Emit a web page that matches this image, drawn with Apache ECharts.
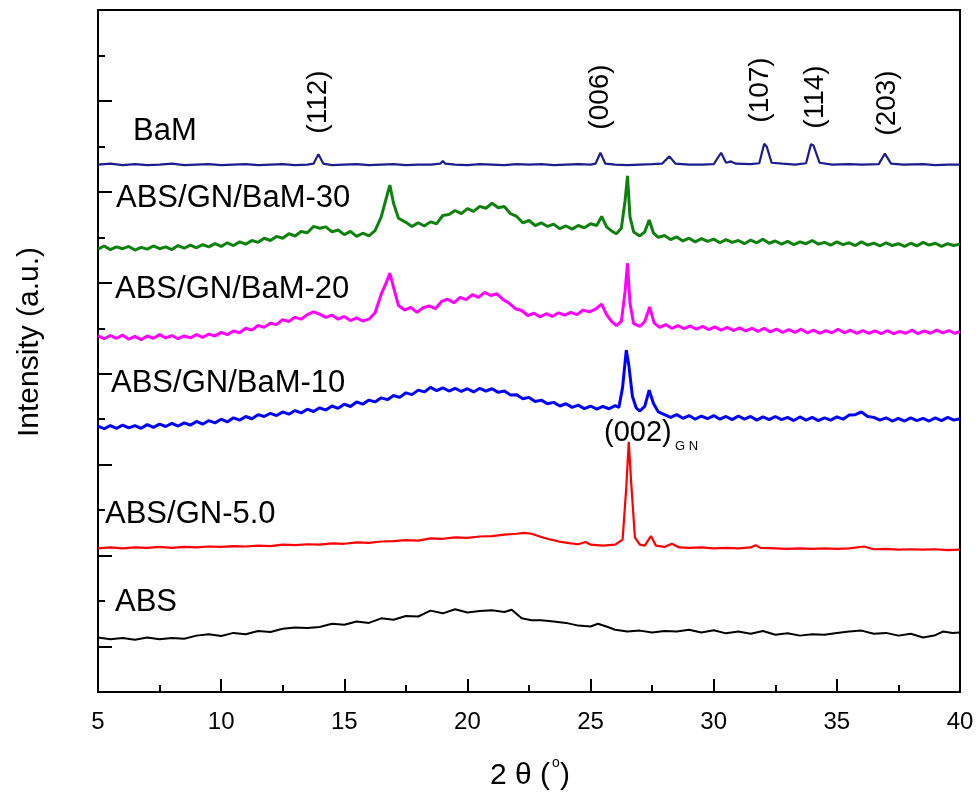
<!DOCTYPE html>
<html>
<head>
<meta charset="utf-8">
<title>XRD</title>
<script src="https://cdn.jsdelivr.net/npm/echarts@6/dist/echarts.min.js"></script>
<style>
html, body { margin: 0; padding: 0; background: #fff; }
#main { width: 978px; height: 797px; }
</style>
</head>
<body>
<div id="main"></div>
<script>
// 2θ (deg), intensity (a.u., stacked offsets)
var bam = [[5,116.0],[5.5,116.2],[6,115.9],[6.5,116.1],[7,115.9],[7.5,116.0],[8,116.2],[8.5,115.9],[9,116.0],[9.5,116.1],
  [10,115.9],[10.5,116.0],[11,116.1],[11.5,115.9],[12,116.0],[12.5,116.1],[13,115.9],[13.5,116.0],[13.75,116.2],[13.95,118.3],
  [14.15,116.2],[14.5,115.9],[15,116.0],[15.5,116.1],[16,115.9],[16.5,116.0],[17,116.1],[17.5,115.9],[18,116.0],[18.5,116.0],
  [18.9,116.2],[19,116.8],[19.1,116.2],[19.5,116.0],[20,115.9],[20.5,116.1],[21,116.0],[21.5,115.9],[22,116.1],[22.5,116.0],
  [23,116.1],[23.5,115.9],[24,116.0],[24.5,116.1],[25,116.0],[25.2,116.2],[25.4,118.6],[25.6,116.2],[26,116.0],[26.5,115.9],
  [27,116.0],[27.5,116.1],[27.9,116.2],[28.2,117.8],[28.45,116.2],[29,116.0],[29.5,116.0],[30,116.1],[30.3,118.6],[30.5,116.4],
  [30.7,116.7],[30.9,116.2],[31.5,116.1],[31.85,116.3],[32.05,120.6],[32.15,120.0],[32.35,116.4],[32.8,116.2],[33.3,116.0],
  [33.75,116.3],[33.95,120.5],[34.05,120.2],[34.3,116.4],[34.8,116.0],[35.5,116.1],[36,116.0],[36.7,116.1],[36.95,118.4],
  [37.2,116.2],[37.7,116.0],[38.5,116.1],[39,115.9],[39.5,116.0],[40,116.0]];

var gnBam30 = [[5,97.4],[5.25,98.1],[5.5,97.3],[5.75,97.9],[6,97.5],[6.25,98.0],[6.5,97.2],[6.75,97.8],[7,97.4],[7.25,98.1],
  [7.5,97.5],[7.75,97.9],[8,97.3],[8.25,98.2],[8.5,97.6],[8.75,98.3],[9,97.7],[9.25,98.4],[9.5,97.9],[9.75,98.6],[10,98.0],
  [10.25,98.8],[10.5,98.2],[10.75,99.0],[11,98.5],[11.25,99.3],[11.5,98.9],[11.75,99.8],[12,99.3],[12.25,100.2],[12.5,99.8],
  [12.75,100.8],[13,100.3],[13.25,101.3],[13.5,101.0],[13.75,102.4],[14,102.0],[14.25,102.3],[14.5,101.2],[14.75,101.6],
  [15,100.6],[15.25,101.3],[15.5,100.2],[15.75,100.9],[16,100.3],[16.25,101.5],[16.5,104.5],[16.7,108.5],[16.85,111.5],
  [17,107.5],[17.2,104.2],[17.5,103.3],[17.75,102.4],[18,103.2],[18.25,102.5],[18.5,103.4],[18.75,103.0],[19,104.8],
  [19.25,105.0],[19.5,105.9],[19.75,105.2],[20,106.3],[20.25,105.7],[20.5,106.8],[20.75,106.4],[21,107.5],[21.25,106.5],
  [21.5,106.8],[21.75,105.2],[22,104.6],[22.25,103.2],[22.5,103.7],[22.75,102.6],[23,103.2],[23.25,102.4],[23.5,102.9],
  [23.75,101.9],[24,102.5],[24.25,101.8],[24.5,102.6],[24.75,102.1],[25,103.0],[25.25,102.6],[25.45,104.6],[25.65,102.3],
  [25.85,101.4],[26.05,100.8],[26.25,102.0],[26.4,108.0],[26.5,113.5],[26.6,104.5],[26.75,101.2],[27,100.3],[27.2,101.2],
  [27.38,103.8],[27.55,101.0],[27.75,100.0],[28,100.4],[28.25,99.5],[28.5,100.1],[28.75,99.2],[29,99.8],[29.25,99.0],
  [29.5,99.7],[29.75,99.1],[30,99.6],[30.25,98.8],[30.5,99.5],[30.75,98.9],[31,99.3],[31.25,98.6],[31.5,99.4],[31.75,98.8],
  [32,99.6],[32.25,98.7],[32.5,99.2],[32.75,98.5],[33,99.1],[33.25,98.4],[33.5,99.0],[33.75,98.6],[34,99.3],[34.25,98.5],
  [34.5,98.9],[34.75,98.3],[35,99.0],[35.25,98.4],[35.5,98.8],[35.75,98.2],[36,99.0],[36.25,98.3],[36.5,98.7],[36.75,98.1],
  [37,98.8],[37.25,98.2],[37.5,98.6],[37.75,98.0],[38,98.7],[38.25,98.1],[38.5,98.9],[38.75,98.3],[39,98.7],[39.25,98.0],
  [39.5,98.6],[39.75,98.2],[40,98.5]];

var gnBam20 = [[5,78.3],[5.25,77.7],[5.5,78.4],[5.75,77.8],[6,78.5],[6.25,77.6],[6.5,78.2],[6.75,77.5],[7,78.3],[7.25,77.8],
  [7.5,78.6],[7.75,77.9],[8,78.4],[8.25,77.7],[8.5,78.3],[8.75,77.9],[9,78.6],[9.25,78.0],[9.5,78.7],[9.75,78.3],[10,79.1],
  [10.25,78.6],[10.5,79.4],[10.75,79.0],[11,80.0],[11.25,79.6],[11.5,80.6],[11.75,80.2],[12,81.1],[12.25,80.8],[12.5,81.9],
  [12.75,81.5],[13,82.4],[13.25,82.0],[13.5,83.0],[13.75,83.6],[14,83.1],[14.25,82.4],[14.5,82.9],[14.75,82.0],[15,82.6],
  [15.25,81.7],[15.5,82.3],[15.75,81.6],[16,82.0],[16.25,83.4],[16.5,87.5],[16.7,90.0],[16.85,92.1],[17,89.0],[17.2,85.0],
  [17.45,84.0],[17.7,84.6],[17.95,83.5],[18.2,84.5],[18.45,84.9],[18.7,84.3],[18.95,85.9],[19.2,86.4],[19.45,85.6],
  [19.7,86.8],[19.95,86.3],[20.2,87.4],[20.45,86.8],[20.7,87.9],[20.95,87.2],[21.2,87.6],[21.45,86.3],[21.7,85.5],
  [21.95,84.3],[22.2,83.9],[22.45,82.8],[22.7,83.3],[22.95,82.5],[23.2,83.2],[23.45,82.6],[23.7,83.4],[23.95,82.9],
  [24.2,83.5],[24.45,83.0],[24.7,84.0],[24.95,83.6],[25.2,84.2],[25.45,85.3],[25.65,83.0],[25.85,81.5],[26.05,80.6],
  [26.25,81.5],[26.4,88.0],[26.5,94.3],[26.6,85.5],[26.75,81.0],[27,80.4],[27.2,81.5],[27.4,84.7],[27.58,81.2],[27.8,80.2],
  [28.05,80.8],[28.3,80.0],[28.55,80.6],[28.8,79.9],[29.05,80.5],[29.3,79.8],[29.55,80.4],[29.8,79.7],[30.05,80.3],
  [30.3,79.6],[30.55,80.2],[30.8,79.5],[31.05,80.1],[31.3,79.4],[31.55,80.0],[31.8,79.3],[32.05,80.0],[32.3,79.2],
  [32.55,79.8],[32.8,79.1],[33.05,79.7],[33.3,79.1],[33.55,79.8],[33.8,79.0],[34.05,79.6],[34.3,78.9],[34.55,79.5],
  [34.8,79.0],[35.05,79.8],[35.3,79.0],[35.55,79.6],[35.8,78.9],[36.05,79.5],[36.3,78.9],[36.55,79.4],[36.8,78.8],
  [37.05,79.5],[37.3,78.8],[37.55,79.3],[37.8,78.9],[38.05,79.6],[38.3,78.8],[38.55,79.4],[38.8,78.9],[39.05,79.6],
  [39.3,79.0],[39.55,79.5],[39.8,78.9],[40,79.3]];

var gnBam10 = [[5,58.5],[5.25,57.9],[5.5,58.6],[5.75,58.0],[6,58.7],[6.25,58.1],[6.5,58.6],[6.75,58.0],[7,58.8],[7.25,58.2],
  [7.5,58.9],[7.75,58.4],[8,59.1],[8.25,58.5],[8.5,59.2],[8.75,58.7],[9,59.5],[9.25,58.9],[9.5,59.7],[9.75,59.2],[10,60.0],
  [10.25,59.4],[10.5,60.3],[10.75,59.8],[11,60.6],[11.25,60.1],[11.5,61.0],[11.75,60.6],[12,61.3],[12.25,60.8],[12.5,61.6],
  [12.75,61.1],[13,61.9],[13.25,61.4],[13.5,62.2],[13.75,61.7],[14,62.5],[14.25,62.0],[14.5,62.9],[14.75,62.4],[15,63.3],
  [15.25,62.8],[15.5,63.8],[15.75,63.3],[16,64.2],[16.25,63.8],[16.5,64.7],[16.75,64.3],[17,65.2],[17.25,64.8],[17.5,65.8],
  [17.75,65.4],[18,66.4],[18.25,66.0],[18.5,67.0],[18.75,66.3],[19,66.9],[19.25,66.2],[19.5,66.8],[19.75,66.1],[20,66.7],
  [20.25,66.0],[20.5,66.8],[20.75,66.2],[21,66.7],[21.25,65.9],[21.5,66.2],[21.75,65.3],[22,65.4],[22.25,64.5],[22.5,64.8],
  [22.75,63.9],[23,64.2],[23.25,63.4],[23.5,63.7],[23.75,62.9],[24,63.4],[24.25,62.6],[24.5,63.1],[24.75,62.3],[25,62.9],
  [25.25,62.2],[25.5,62.8],[25.75,62.3],[26,63.0],[26.15,62.6],[26.3,67.0],[26.45,75.2],[26.55,72.0],[26.7,65.0],
  [26.85,62.5],[27,61.8],[27.2,62.8],[27.38,66.4],[27.55,63.5],[27.75,61.6],[28,61.0],[28.25,60.4],[28.5,61.0],[28.75,60.2],
  [29,60.8],[29.25,60.0],[29.5,60.7],[29.75,60.1],[30,60.8],[30.25,60.0],[30.5,60.6],[30.75,59.9],[31,60.7],[31.25,60.0],
  [31.5,60.6],[31.75,59.8],[32,60.5],[32.25,59.9],[32.5,60.6],[32.75,59.9],[33,60.4],[33.25,59.7],[33.5,60.5],[33.75,59.8],
  [34,60.4],[34.25,59.7],[34.5,60.3],[34.75,59.8],[35,60.5],[35.25,60.0],[35.5,60.9],[35.75,61.0],[36,61.6],[36.25,60.6],
  [36.5,60.4],[36.75,59.8],[37,60.3],[37.25,59.6],[37.5,60.2],[37.75,59.6],[38,60.3],[38.25,59.7],[38.5,60.2],[38.75,59.6],
  [39,60.3],[39.25,59.7],[39.5,60.4],[39.75,59.8],[40,60.1]];

var gn50 = [[5,31.6],[5.5,31.8],[6,31.6],[6.5,31.8],[7,31.7],[7.5,31.9],[8,31.7],[8.5,31.9],[9,31.8],[9.5,32.0],[10,31.9],
  [10.5,32.1],[11,32.0],[11.5,32.2],[12,32.1],[12.5,32.4],[13,32.3],[13.5,32.5],[14,32.4],[14.5,32.7],[15,32.6],[15.5,32.9],
  [16,32.8],[16.5,33.1],[17,33.2],[17.5,33.4],[18,33.3],[18.5,33.8],[19,33.7],[19.5,34.0],[20,33.9],[20.5,34.2],[21,34.3],
  [21.5,34.6],[22,34.8],[22.3,35.0],[22.6,34.8],[23,34.1],[23.4,33.5],[23.8,33.0],[24.2,32.7],[24.5,32.5],[24.8,33.0],
  [25,32.4],[25.5,32.2],[26,32.4],[26.3,33.5],[26.45,45.0],[26.55,55.0],[26.65,46.0],[26.8,34.0],[27,32.4],[27.2,32.2],
  [27.45,34.3],[27.65,32.2],[28,31.9],[28.3,32.6],[28.6,31.8],[29,31.7],[29.5,31.8],[30,31.6],[30.5,31.7],[31,31.6],
  [31.5,31.8],[31.7,32.3],[31.9,31.7],[32.5,31.6],[33,31.5],[33.5,31.6],[34,31.5],[34.5,31.6],[35,31.5],[35.5,31.6],
  [36.1,32.0],[36.5,31.4],[37,31.5],[37.5,31.3],[38,31.4],[38.5,31.3],[39,31.4],[39.5,31.2],[40,31.3]];

var abs = [[5,12.0],[5.5,11.6],[6,11.9],[6.5,11.5],[7,12.0],[7.5,11.6],[8,11.9],[8.5,11.7],[9,12.4],[9.5,12.7],[10,12.3],
  [10.5,13.0],[11,12.7],[11.5,13.4],[12,13.2],[12.5,13.9],[13,14.2],[13.5,14.1],[14,14.3],[14.5,15.0],[15,14.8],[15.5,15.5],
  [16,15.2],[16.5,16.2],[17,15.9],[17.5,16.7],[18,16.6],[18.5,17.9],[19,17.3],[19.5,18.2],[20,17.5],[20.5,17.8],[21,18.0],
  [21.5,17.6],[21.8,18.1],[22.2,16.2],[22.6,15.8],[23,15.8],[23.5,15.5],[24,15.2],[24.5,14.6],[25,14.4],[25.3,15.0],
  [25.7,14.3],[26,13.7],[26.5,13.3],[27,13.5],[27.5,13.1],[28,13.4],[28.5,13.3],[29,13.7],[29.5,13.1],[30,13.6],[30.5,12.9],
  [31,13.3],[31.5,12.8],[32,13.4],[32.5,12.6],[33,12.9],[33.5,12.4],[34,12.7],[34.5,12.6],[35,13.0],[35.5,13.3],[36,13.5],
  [36.5,12.8],[37,13.0],[37.5,12.4],[38,12.8],[38.5,12.0],[39,12.5],[39.3,13.3],[39.7,13.0],[40,13.1]];

var xTicks = [5, 10, 15, 20, 25, 30, 35, 40];
var majorY = [10, 30, 50, 70, 90, 110, 130];
var minorY = [20, 40, 60, 80, 100, 120, 140];

var sampleNames = ['BaM', 'ABS/GN/BaM-30', 'ABS/GN/BaM-20', 'ABS/GN/BaM-10', 'ABS/GN-5.0', 'ABS'];
var peakNames = ['(112)', '(006)', '(107)', '(114)', '(203)'];

var font = 'Arial, "Liberation Sans", sans-serif';
var myChart = echarts.init(document.getElementById('main'));

function line(name, data, color, width) {
  return {
    name: name, type: 'line', data: data, showSymbol: false, smooth: false,
    lineStyle: { color: color, width: width }, animation: false, silent: true
  };
}

function label(text, x, y, size, rot) {
  return {
    type: 'text', x: x, y: y, rotation: rot || 0,
    style: {
      text: text, fill: '#000', font: size + 'px ' + font,
      textAlign: rot ? 'center' : 'left', textVerticalAlign: 'middle'
    }
  };
}

var option = {
  backgroundColor: '#fff',
  animation: false,
  grid: {
    left: 98, right: 18, top: 10, bottom: 105,
    show: true, borderColor: '#000', borderWidth: 2
  },
  xAxis: {
    type: 'value', min: 5, max: 40, interval: 5,
    axisLine: { lineStyle: { color: '#000', width: 2 } },
    axisTick: { inside: true, length: 13, lineStyle: { color: '#000', width: 2 } },
    minorTick: { show: true, splitNumber: 2, length: 7, lineStyle: { color: '#000', width: 2 } },
    axisLabel: {
      color: '#000', fontSize: 24, fontFamily: font, margin: 18,
      customValues: xTicks
    },
    splitLine: { show: false }
  },
  yAxis: [{
    type: 'value', min: 0, max: 150, interval: 10,
    axisLine: { lineStyle: { color: '#000', width: 2 } },
    axisTick: { inside: true, length: 14, customValues: majorY, lineStyle: { color: '#000', width: 2 } },
    axisLabel: { show: false },
    splitLine: { show: false }
  }, {
    type: 'value', min: 0, max: 150, interval: 10, position: 'left',
    axisLine: { show: false },
    axisTick: { inside: true, length: 7, customValues: minorY, lineStyle: { color: '#000', width: 2 } },
    axisLabel: { show: false },
    splitLine: { show: false }
  }],
  series: [
    line(sampleNames[0], bam, '#1c1c8e', 2.2),
    line(sampleNames[1], gnBam30, '#0e800e', 3),
    line(sampleNames[2], gnBam20, '#ff00ff', 3),
    line(sampleNames[3], gnBam10, '#0000ff', 3),
    line(sampleNames[4], gn50, '#ff0000', 2.2),
    line(sampleNames[5], abs, '#000000', 2)
  ],
  graphic: [
    label(sampleNames[0], 133, 131, 31),
    label(sampleNames[1], 116, 198, 31),
    label(sampleNames[2], 115, 289, 31),
    label(sampleNames[3], 111, 383, 31),
    label(sampleNames[4], 105, 514, 31),
    label(sampleNames[5], 115, 602, 31),
    label(peakNames[0], 318, 102, 28, Math.PI / 2),
    label(peakNames[1], 600, 97, 28, Math.PI / 2),
    label(peakNames[2], 760, 90, 28, Math.PI / 2),
    label(peakNames[3], 815, 97, 28, Math.PI / 2),
    label(peakNames[4], 887, 103, 28, Math.PI / 2),
    label('(002)', 604, 433, 29),
    label('G N', 675, 446, 13),
    label('Intensity (a.u.)', 30, 342, 30, Math.PI / 2),
    label('2 θ (', 490, 776, 30),
    label('o', 552, 763, 14),
    label(')', 560, 776, 30)
  ]
};

myChart.setOption(option);
window.onresize = function () {
  myChart.resize();
};
</script>
</body>
</html>
